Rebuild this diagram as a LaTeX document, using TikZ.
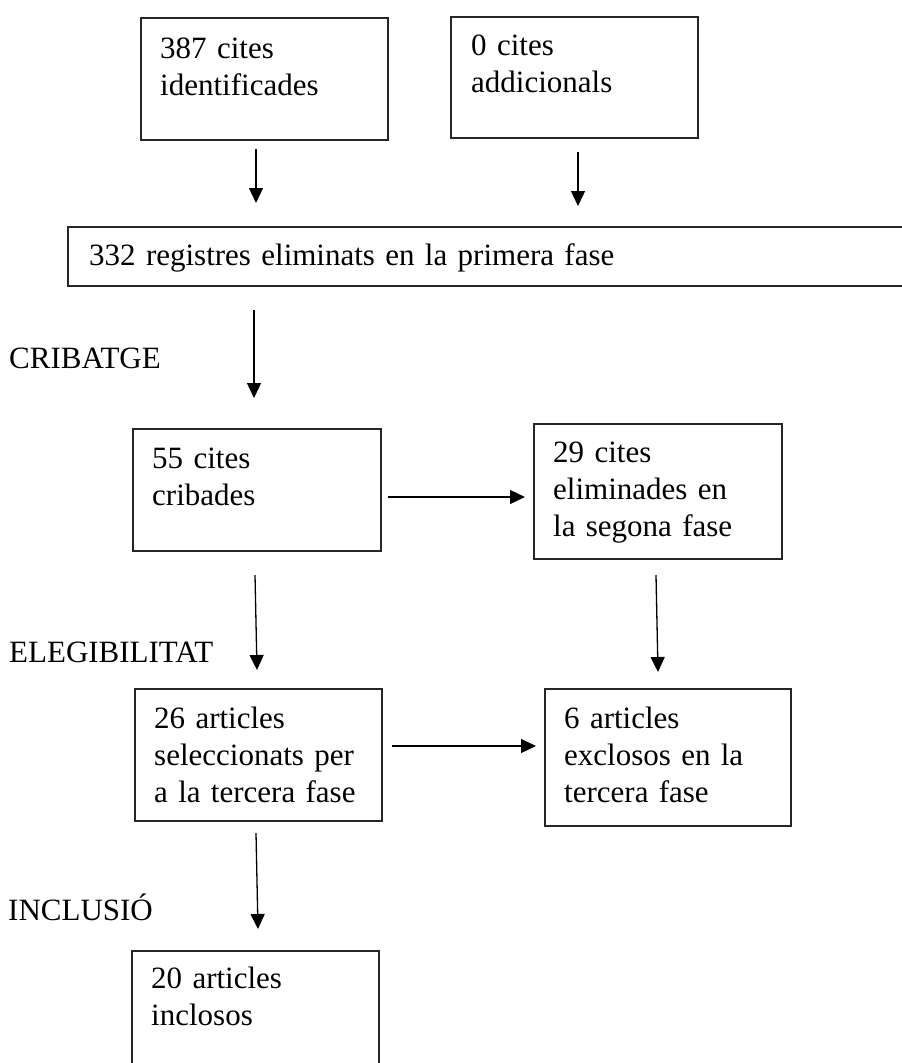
\documentclass[tikz,border=0pt]{standalone}
\usepackage{fontspec}
\setmainfont{Liberation Serif}
\usetikzlibrary{arrows.meta}
\begin{document}
\begin{tikzpicture}[x=1pt,y=-1pt,
  boxnode/.style={draw=black!85,line width=1.5pt,rectangle,inner sep=0pt,anchor=north west},
  txt/.style={anchor=base west,inner sep=0pt,align=left,text width=240pt,
    font=\fontsize{31}{37}\selectfont},
  lbl/.style={anchor=base west,inner sep=0pt,font=\fontsize{31}{37}\selectfont},
  arr/.style={line width=1.3pt,-{Triangle[width=14pt,length=15pt]}}]
\useasboundingbox (0,0) rectangle (902,1063);
\clip (0,0) rectangle (902,1063);
% boxes
\node[boxnode,minimum width=247pt,minimum height=122pt] (b1) at (140,17) {};
\node[boxnode,minimum width=247pt,minimum height=121pt] (b2) at (450,16) {};
\node[boxnode,minimum width=860pt,minimum height=59pt] (b3) at (67,226) {};
\node[boxnode,minimum width=248pt,minimum height=122pt] (b4) at (132,428) {};
\node[boxnode,minimum width=248pt,minimum height=135pt] (b5) at (533,423) {};
\node[boxnode,minimum width=247pt,minimum height=132pt] (b6) at (134,688) {};
\node[boxnode,minimum width=246pt,minimum height=137pt] (b7) at (544,688) {};
\node[boxnode,minimum width=247pt,minimum height=150pt] (b8) at (131,950) {};
% texts
\node[txt] (t1) at (160,58) {387 cites\\identificades};
\node[txt] (t2) at (471,55) {0 cites\\addicionals};
\node[txt,text width=700pt] (t3) at (89,265) {332 registres eliminats en la primera fase};
\node[txt] (t4) at (152,468) {55 cites\\cribades};
\node[txt] (t5) at (553,462) {29 cites\\eliminades en\\la segona fase};
\node[txt] (t6) at (154,728) {26 articles\\seleccionats per\\a la tercera fase};
\node[txt] (t7) at (564,728) {6 articles\\exclosos en la\\tercera fase};
\node[txt] (t8) at (151,988) {20 articles\\inclosos};
% side labels
\node[lbl] (l1) at (9,368) {CRIBATGE};
\node[lbl] (l2) at (9,662) {ELEGIBILITAT};
\node[lbl] (l3) at (8,920) {INCLUSIÓ};
% arrow ends
\coordinate (a1s) at (256,149); \coordinate (a1e) at (256,203);
\coordinate (a2s) at (578,152); \coordinate (a2e) at (578,206);
\coordinate (a3s) at (254,310); \coordinate (a3e) at (254,398);
\coordinate (a4s) at (388,497); \coordinate (a4e) at (525,497);
\coordinate (a5s) at (255,575); \coordinate (a5e) at (257,670);
\coordinate (a6s) at (656,575); \coordinate (a6e) at (658,672);
\coordinate (a7s) at (392,746); \coordinate (a7e) at (536,746);
\coordinate (a8s) at (256,833); \coordinate (a8e) at (258,929);
\draw[arr] (a1s) -- (a1e);
\draw[arr] (a2s) -- (a2e);
\draw[arr] (a3s) -- (a3e);
\draw[arr] (a4s) -- (a4e);
\draw[arr] (a5s) -- (a5e);
\draw[arr] (a6s) -- (a6e);
\draw[arr] (a7s) -- (a7e);
\draw[arr] (a8s) -- (a8e);
\end{tikzpicture}
\end{document}
